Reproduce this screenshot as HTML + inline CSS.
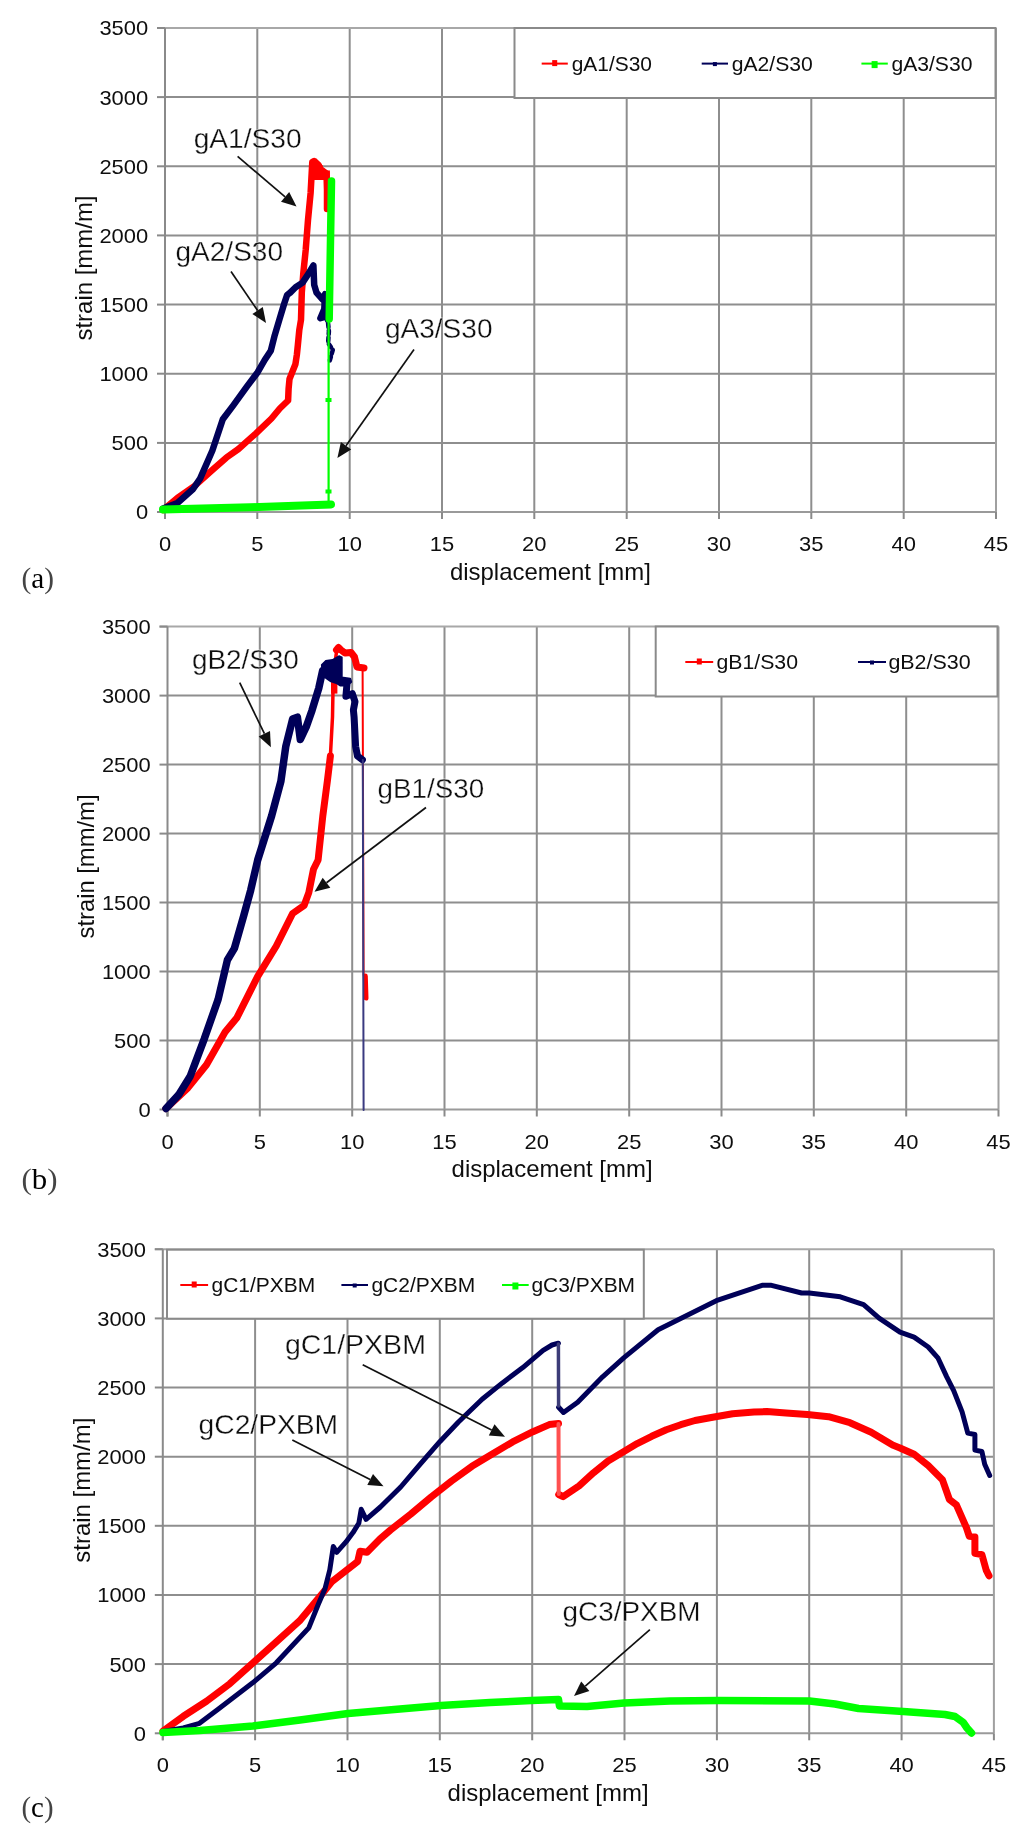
<!DOCTYPE html>
<html><head><meta charset="utf-8"><title>strain vs displacement</title>
<style>html,body{margin:0;padding:0;background:#fff;}body{width:1032px;height:1842px;overflow:hidden;}svg{display:block;filter:blur(0.4px);}</style>
</head><body>
<svg width="1032" height="1842" viewBox="0 0 1032 1842">
<rect width="1032" height="1842" fill="#fff"/>
<line x1="257.3" y1="28.0" x2="257.3" y2="512.0" stroke="#8e8e8e" stroke-width="2"/>
<line x1="349.7" y1="28.0" x2="349.7" y2="512.0" stroke="#8e8e8e" stroke-width="2"/>
<line x1="442.0" y1="28.0" x2="442.0" y2="512.0" stroke="#8e8e8e" stroke-width="2"/>
<line x1="534.3" y1="28.0" x2="534.3" y2="512.0" stroke="#8e8e8e" stroke-width="2"/>
<line x1="626.7" y1="28.0" x2="626.7" y2="512.0" stroke="#8e8e8e" stroke-width="2"/>
<line x1="719.0" y1="28.0" x2="719.0" y2="512.0" stroke="#8e8e8e" stroke-width="2"/>
<line x1="811.3" y1="28.0" x2="811.3" y2="512.0" stroke="#8e8e8e" stroke-width="2"/>
<line x1="903.7" y1="28.0" x2="903.7" y2="512.0" stroke="#8e8e8e" stroke-width="2"/>
<line x1="165.0" y1="442.9" x2="996.0" y2="442.9" stroke="#8e8e8e" stroke-width="2"/>
<line x1="165.0" y1="373.7" x2="996.0" y2="373.7" stroke="#8e8e8e" stroke-width="2"/>
<line x1="165.0" y1="304.6" x2="996.0" y2="304.6" stroke="#8e8e8e" stroke-width="2"/>
<line x1="165.0" y1="235.4" x2="996.0" y2="235.4" stroke="#8e8e8e" stroke-width="2"/>
<line x1="165.0" y1="166.3" x2="996.0" y2="166.3" stroke="#8e8e8e" stroke-width="2"/>
<line x1="165.0" y1="97.1" x2="996.0" y2="97.1" stroke="#8e8e8e" stroke-width="2"/>
<line x1="157.0" y1="28.0" x2="996.0" y2="28.0" stroke="#a8a8a8" stroke-width="2"/>
<line x1="996.0" y1="28.0" x2="996.0" y2="512.0" stroke="#a0a0a0" stroke-width="2"/>
<line x1="165.0" y1="512.0" x2="996.0" y2="512.0" stroke="#9a9a9a" stroke-width="2"/>
<line x1="165.0" y1="28.0" x2="165.0" y2="519.0" stroke="#8a8a8a" stroke-width="2"/>
<line x1="157.0" y1="512.0" x2="165.0" y2="512.0" stroke="#8a8a8a" stroke-width="2"/>
<text x="148.2" y="519.4" font-family="Liberation Sans" font-size="21" fill="#0e0e0e" text-anchor="end" textLength="12.2" lengthAdjust="spacingAndGlyphs" >0</text>
<line x1="157.0" y1="442.9" x2="165.0" y2="442.9" stroke="#8a8a8a" stroke-width="2"/>
<text x="148.2" y="450.3" font-family="Liberation Sans" font-size="21" fill="#0e0e0e" text-anchor="end" textLength="36.6" lengthAdjust="spacingAndGlyphs" >500</text>
<line x1="157.0" y1="373.7" x2="165.0" y2="373.7" stroke="#8a8a8a" stroke-width="2"/>
<text x="148.2" y="381.1" font-family="Liberation Sans" font-size="21" fill="#0e0e0e" text-anchor="end" textLength="48.8" lengthAdjust="spacingAndGlyphs" >1000</text>
<line x1="157.0" y1="304.6" x2="165.0" y2="304.6" stroke="#8a8a8a" stroke-width="2"/>
<text x="148.2" y="312.0" font-family="Liberation Sans" font-size="21" fill="#0e0e0e" text-anchor="end" textLength="48.8" lengthAdjust="spacingAndGlyphs" >1500</text>
<line x1="157.0" y1="235.4" x2="165.0" y2="235.4" stroke="#8a8a8a" stroke-width="2"/>
<text x="148.2" y="242.8" font-family="Liberation Sans" font-size="21" fill="#0e0e0e" text-anchor="end" textLength="48.8" lengthAdjust="spacingAndGlyphs" >2000</text>
<line x1="157.0" y1="166.3" x2="165.0" y2="166.3" stroke="#8a8a8a" stroke-width="2"/>
<text x="148.2" y="173.7" font-family="Liberation Sans" font-size="21" fill="#0e0e0e" text-anchor="end" textLength="48.8" lengthAdjust="spacingAndGlyphs" >2500</text>
<line x1="157.0" y1="97.1" x2="165.0" y2="97.1" stroke="#8a8a8a" stroke-width="2"/>
<text x="148.2" y="104.5" font-family="Liberation Sans" font-size="21" fill="#0e0e0e" text-anchor="end" textLength="48.8" lengthAdjust="spacingAndGlyphs" >3000</text>
<line x1="157.0" y1="28.0" x2="165.0" y2="28.0" stroke="#8a8a8a" stroke-width="2"/>
<text x="148.2" y="35.4" font-family="Liberation Sans" font-size="21" fill="#0e0e0e" text-anchor="end" textLength="48.8" lengthAdjust="spacingAndGlyphs" >3500</text>
<line x1="165.0" y1="512.0" x2="165.0" y2="519.0" stroke="#8a8a8a" stroke-width="2"/>
<text x="165.0" y="551.0" font-family="Liberation Sans" font-size="21" fill="#0e0e0e" text-anchor="middle" textLength="12.2" lengthAdjust="spacingAndGlyphs" >0</text>
<line x1="257.3" y1="512.0" x2="257.3" y2="519.0" stroke="#8a8a8a" stroke-width="2"/>
<text x="257.3" y="551.0" font-family="Liberation Sans" font-size="21" fill="#0e0e0e" text-anchor="middle" textLength="12.2" lengthAdjust="spacingAndGlyphs" >5</text>
<line x1="349.7" y1="512.0" x2="349.7" y2="519.0" stroke="#8a8a8a" stroke-width="2"/>
<text x="349.7" y="551.0" font-family="Liberation Sans" font-size="21" fill="#0e0e0e" text-anchor="middle" textLength="24.4" lengthAdjust="spacingAndGlyphs" >10</text>
<line x1="442.0" y1="512.0" x2="442.0" y2="519.0" stroke="#8a8a8a" stroke-width="2"/>
<text x="442.0" y="551.0" font-family="Liberation Sans" font-size="21" fill="#0e0e0e" text-anchor="middle" textLength="24.4" lengthAdjust="spacingAndGlyphs" >15</text>
<line x1="534.3" y1="512.0" x2="534.3" y2="519.0" stroke="#8a8a8a" stroke-width="2"/>
<text x="534.3" y="551.0" font-family="Liberation Sans" font-size="21" fill="#0e0e0e" text-anchor="middle" textLength="24.4" lengthAdjust="spacingAndGlyphs" >20</text>
<line x1="626.7" y1="512.0" x2="626.7" y2="519.0" stroke="#8a8a8a" stroke-width="2"/>
<text x="626.7" y="551.0" font-family="Liberation Sans" font-size="21" fill="#0e0e0e" text-anchor="middle" textLength="24.4" lengthAdjust="spacingAndGlyphs" >25</text>
<line x1="719.0" y1="512.0" x2="719.0" y2="519.0" stroke="#8a8a8a" stroke-width="2"/>
<text x="719.0" y="551.0" font-family="Liberation Sans" font-size="21" fill="#0e0e0e" text-anchor="middle" textLength="24.4" lengthAdjust="spacingAndGlyphs" >30</text>
<line x1="811.3" y1="512.0" x2="811.3" y2="519.0" stroke="#8a8a8a" stroke-width="2"/>
<text x="811.3" y="551.0" font-family="Liberation Sans" font-size="21" fill="#0e0e0e" text-anchor="middle" textLength="24.4" lengthAdjust="spacingAndGlyphs" >35</text>
<line x1="903.7" y1="512.0" x2="903.7" y2="519.0" stroke="#8a8a8a" stroke-width="2"/>
<text x="903.7" y="551.0" font-family="Liberation Sans" font-size="21" fill="#0e0e0e" text-anchor="middle" textLength="24.4" lengthAdjust="spacingAndGlyphs" >40</text>
<line x1="996.0" y1="512.0" x2="996.0" y2="519.0" stroke="#8a8a8a" stroke-width="2"/>
<text x="996.0" y="551.0" font-family="Liberation Sans" font-size="21" fill="#0e0e0e" text-anchor="middle" textLength="24.4" lengthAdjust="spacingAndGlyphs" >45</text>
<rect x="514.5" y="28.0" width="481.0" height="70.0" fill="#fff" stroke="#8a8a8a" stroke-width="2"/>
<line x1="541.7" y1="63.6" x2="567.8" y2="63.6" stroke="#ff0000" stroke-width="2"/>
<rect x="552.2" y="60.1" width="5" height="6" fill="#ff0000"/>
<text x="571.7" y="70.6" font-family="Liberation Sans" font-size="21" fill="#0e0e0e" text-anchor="start" textLength="80.3" lengthAdjust="spacingAndGlyphs" >gA1/S30</text>
<line x1="701.7" y1="63.6" x2="728.0" y2="63.6" stroke="#000058" stroke-width="2"/>
<rect x="712.9" y="62.1" width="4" height="4" fill="#000058"/>
<text x="731.7" y="70.6" font-family="Liberation Sans" font-size="21" fill="#0e0e0e" text-anchor="start" textLength="81.1" lengthAdjust="spacingAndGlyphs" >gA2/S30</text>
<line x1="861.4" y1="63.6" x2="887.8" y2="63.6" stroke="#00ff00" stroke-width="2"/>
<rect x="871.6" y="61.1" width="6" height="7" fill="#00ff00"/>
<text x="891.4" y="70.6" font-family="Liberation Sans" font-size="21" fill="#0e0e0e" text-anchor="start" textLength="81.1" lengthAdjust="spacingAndGlyphs" >gA3/S30</text>
<polyline points="163.0,510.0 177.4,498.0 195.0,485.6 212.3,470.0 226.3,457.7 238.5,449.0 256.0,433.3 271.5,418.5 279.8,408.5 288.1,400.5 288.6,388.7 289.5,379.0 292.5,371.5 295.4,364.2 296.9,354.4 297.9,344.7 299.3,330.0 301.0,319.8 301.8,292.6 303.3,273.3 305.7,250.0 308.0,220.0 310.6,193.0 312.3,162.0 314.0,161.0 318.5,165.0 320.5,169.0 326.5,173.5 327.0,190.0 327.0,209.0" fill="none" stroke="#ff0000" stroke-width="6.5" stroke-linejoin="round" stroke-linecap="round" />
<polygon points="312,161 316.3,158.5 322.8,165.7 323.3,170.6 329.9,170.6 329.9,180 313,180" fill="#ff0000"/>
<polyline points="163.0,508.5 177.4,503.0 193.1,489.0 200.1,478.6 212.3,450.7 222.8,419.3 233.3,405.4 247.2,386.2 257.7,372.2 264.7,360.0 270.8,350.8 274.7,335.3 279.3,319.8 284.0,304.3 287.1,295.0 290.2,292.6 295.6,287.2 302.6,282.6 307.2,275.6 313.4,265.5 314.2,284.9 316.5,292.6 322.7,299.6 325.0,294.2 324.3,308.9 320.4,318.2 325.8,316.7" fill="none" stroke="#000058" stroke-width="6.5" stroke-linejoin="round" stroke-linecap="round" />
<polyline points="325.8,316.7 328.1,323.6 328.9,331.4 328.1,343.0 332.8,350.0 329.7,360.9" fill="none" stroke="#000058" stroke-width="4.5" stroke-linejoin="round" stroke-linecap="round" stroke-dasharray="4 3"/>
<polyline points="163.0,509.5 250.0,507.3 331.0,504.5" fill="none" stroke="#00ff00" stroke-width="8" stroke-linejoin="round" stroke-linecap="round" />
<polyline points="328.6,506.0 328.6,318.0" fill="none" stroke="#00ff00" stroke-width="2.2" stroke-linejoin="round" stroke-linecap="round" />
<polyline points="329.2,319.0 330.5,240.0 331.5,181.0" fill="none" stroke="#00ff00" stroke-width="7.5" stroke-linejoin="round" stroke-linecap="round" />
<rect x="325.5" y="398" width="6" height="4" fill="#00ff00"/>
<rect x="325.5" y="489.5" width="6" height="4" fill="#00ff00"/>
<text x="193.7" y="147.7" font-family="Liberation Sans" font-size="27.5" fill="#0e0e0e" text-anchor="start" textLength="108.0" lengthAdjust="spacingAndGlyphs" stroke="#fff" stroke-width="0.3">gA1/S30</text>
<text x="175.5" y="260.5" font-family="Liberation Sans" font-size="27.5" fill="#0e0e0e" text-anchor="start" textLength="107.5" lengthAdjust="spacingAndGlyphs" stroke="#fff" stroke-width="0.3">gA2/S30</text>
<text x="384.9" y="337.8" font-family="Liberation Sans" font-size="27.5" fill="#0e0e0e" text-anchor="start" textLength="107.6" lengthAdjust="spacingAndGlyphs" stroke="#fff" stroke-width="0.3">gA3/S30</text>
<line x1="237.6" y1="156.4" x2="285.1" y2="196.9" stroke="#111" stroke-width="1.7"/>
<polygon points="296.5,206.6 281.0,201.7 289.2,192.1" fill="#111"/>
<line x1="231.0" y1="271.4" x2="257.6" y2="310.6" stroke="#111" stroke-width="1.7"/>
<polygon points="266.0,323.0 252.4,314.1 262.8,307.0" fill="#111"/>
<line x1="414.0" y1="349.4" x2="346.0" y2="445.7" stroke="#111" stroke-width="1.7"/>
<polygon points="337.4,458.0 340.9,442.1 351.2,449.4" fill="#111"/>
<text x="550.4" y="579.5" font-family="Liberation Sans" font-size="24" fill="#0e0e0e" text-anchor="middle" textLength="201.0" lengthAdjust="spacingAndGlyphs" >displacement [mm]</text>
<text transform="translate(92.4,268) rotate(-90)" font-family="Liberation Sans" font-size="24" fill="#0e0e0e" text-anchor="middle" textLength="145" lengthAdjust="spacingAndGlyphs">strain [mm/m]</text>
<text x="21.5" y="587.6" font-family="Liberation Serif" font-size="30" fill="#111" textLength="32.5" lengthAdjust="spacingAndGlyphs"><tspan fill="#444">(</tspan><tspan fill="#000">a</tspan><tspan fill="#444">)</tspan></text>
<line x1="259.8" y1="626.6" x2="259.8" y2="1109.5" stroke="#8e8e8e" stroke-width="2"/>
<line x1="352.2" y1="626.6" x2="352.2" y2="1109.5" stroke="#8e8e8e" stroke-width="2"/>
<line x1="444.5" y1="626.6" x2="444.5" y2="1109.5" stroke="#8e8e8e" stroke-width="2"/>
<line x1="536.8" y1="626.6" x2="536.8" y2="1109.5" stroke="#8e8e8e" stroke-width="2"/>
<line x1="629.2" y1="626.6" x2="629.2" y2="1109.5" stroke="#8e8e8e" stroke-width="2"/>
<line x1="721.5" y1="626.6" x2="721.5" y2="1109.5" stroke="#8e8e8e" stroke-width="2"/>
<line x1="813.8" y1="626.6" x2="813.8" y2="1109.5" stroke="#8e8e8e" stroke-width="2"/>
<line x1="906.2" y1="626.6" x2="906.2" y2="1109.5" stroke="#8e8e8e" stroke-width="2"/>
<line x1="167.5" y1="1040.5" x2="998.5" y2="1040.5" stroke="#8e8e8e" stroke-width="2"/>
<line x1="167.5" y1="971.5" x2="998.5" y2="971.5" stroke="#8e8e8e" stroke-width="2"/>
<line x1="167.5" y1="902.5" x2="998.5" y2="902.5" stroke="#8e8e8e" stroke-width="2"/>
<line x1="167.5" y1="833.6" x2="998.5" y2="833.6" stroke="#8e8e8e" stroke-width="2"/>
<line x1="167.5" y1="764.6" x2="998.5" y2="764.6" stroke="#8e8e8e" stroke-width="2"/>
<line x1="167.5" y1="695.6" x2="998.5" y2="695.6" stroke="#8e8e8e" stroke-width="2"/>
<line x1="159.5" y1="626.6" x2="998.5" y2="626.6" stroke="#a8a8a8" stroke-width="2"/>
<line x1="998.5" y1="626.6" x2="998.5" y2="1109.5" stroke="#a0a0a0" stroke-width="2"/>
<line x1="167.5" y1="1109.5" x2="998.5" y2="1109.5" stroke="#9a9a9a" stroke-width="2"/>
<line x1="167.5" y1="626.6" x2="167.5" y2="1116.5" stroke="#8a8a8a" stroke-width="2"/>
<line x1="159.5" y1="1109.5" x2="167.5" y2="1109.5" stroke="#8a8a8a" stroke-width="2"/>
<text x="150.7" y="1116.9" font-family="Liberation Sans" font-size="21" fill="#0e0e0e" text-anchor="end" textLength="12.2" lengthAdjust="spacingAndGlyphs" >0</text>
<line x1="159.5" y1="1040.5" x2="167.5" y2="1040.5" stroke="#8a8a8a" stroke-width="2"/>
<text x="150.7" y="1047.9" font-family="Liberation Sans" font-size="21" fill="#0e0e0e" text-anchor="end" textLength="36.6" lengthAdjust="spacingAndGlyphs" >500</text>
<line x1="159.5" y1="971.5" x2="167.5" y2="971.5" stroke="#8a8a8a" stroke-width="2"/>
<text x="150.7" y="978.9" font-family="Liberation Sans" font-size="21" fill="#0e0e0e" text-anchor="end" textLength="48.8" lengthAdjust="spacingAndGlyphs" >1000</text>
<line x1="159.5" y1="902.5" x2="167.5" y2="902.5" stroke="#8a8a8a" stroke-width="2"/>
<text x="150.7" y="909.9" font-family="Liberation Sans" font-size="21" fill="#0e0e0e" text-anchor="end" textLength="48.8" lengthAdjust="spacingAndGlyphs" >1500</text>
<line x1="159.5" y1="833.6" x2="167.5" y2="833.6" stroke="#8a8a8a" stroke-width="2"/>
<text x="150.7" y="841.0" font-family="Liberation Sans" font-size="21" fill="#0e0e0e" text-anchor="end" textLength="48.8" lengthAdjust="spacingAndGlyphs" >2000</text>
<line x1="159.5" y1="764.6" x2="167.5" y2="764.6" stroke="#8a8a8a" stroke-width="2"/>
<text x="150.7" y="772.0" font-family="Liberation Sans" font-size="21" fill="#0e0e0e" text-anchor="end" textLength="48.8" lengthAdjust="spacingAndGlyphs" >2500</text>
<line x1="159.5" y1="695.6" x2="167.5" y2="695.6" stroke="#8a8a8a" stroke-width="2"/>
<text x="150.7" y="703.0" font-family="Liberation Sans" font-size="21" fill="#0e0e0e" text-anchor="end" textLength="48.8" lengthAdjust="spacingAndGlyphs" >3000</text>
<line x1="159.5" y1="626.6" x2="167.5" y2="626.6" stroke="#8a8a8a" stroke-width="2"/>
<text x="150.7" y="634.0" font-family="Liberation Sans" font-size="21" fill="#0e0e0e" text-anchor="end" textLength="48.8" lengthAdjust="spacingAndGlyphs" >3500</text>
<line x1="167.5" y1="1109.5" x2="167.5" y2="1116.5" stroke="#8a8a8a" stroke-width="2"/>
<text x="167.5" y="1148.5" font-family="Liberation Sans" font-size="21" fill="#0e0e0e" text-anchor="middle" textLength="12.2" lengthAdjust="spacingAndGlyphs" >0</text>
<line x1="259.8" y1="1109.5" x2="259.8" y2="1116.5" stroke="#8a8a8a" stroke-width="2"/>
<text x="259.8" y="1148.5" font-family="Liberation Sans" font-size="21" fill="#0e0e0e" text-anchor="middle" textLength="12.2" lengthAdjust="spacingAndGlyphs" >5</text>
<line x1="352.2" y1="1109.5" x2="352.2" y2="1116.5" stroke="#8a8a8a" stroke-width="2"/>
<text x="352.2" y="1148.5" font-family="Liberation Sans" font-size="21" fill="#0e0e0e" text-anchor="middle" textLength="24.4" lengthAdjust="spacingAndGlyphs" >10</text>
<line x1="444.5" y1="1109.5" x2="444.5" y2="1116.5" stroke="#8a8a8a" stroke-width="2"/>
<text x="444.5" y="1148.5" font-family="Liberation Sans" font-size="21" fill="#0e0e0e" text-anchor="middle" textLength="24.4" lengthAdjust="spacingAndGlyphs" >15</text>
<line x1="536.8" y1="1109.5" x2="536.8" y2="1116.5" stroke="#8a8a8a" stroke-width="2"/>
<text x="536.8" y="1148.5" font-family="Liberation Sans" font-size="21" fill="#0e0e0e" text-anchor="middle" textLength="24.4" lengthAdjust="spacingAndGlyphs" >20</text>
<line x1="629.2" y1="1109.5" x2="629.2" y2="1116.5" stroke="#8a8a8a" stroke-width="2"/>
<text x="629.2" y="1148.5" font-family="Liberation Sans" font-size="21" fill="#0e0e0e" text-anchor="middle" textLength="24.4" lengthAdjust="spacingAndGlyphs" >25</text>
<line x1="721.5" y1="1109.5" x2="721.5" y2="1116.5" stroke="#8a8a8a" stroke-width="2"/>
<text x="721.5" y="1148.5" font-family="Liberation Sans" font-size="21" fill="#0e0e0e" text-anchor="middle" textLength="24.4" lengthAdjust="spacingAndGlyphs" >30</text>
<line x1="813.8" y1="1109.5" x2="813.8" y2="1116.5" stroke="#8a8a8a" stroke-width="2"/>
<text x="813.8" y="1148.5" font-family="Liberation Sans" font-size="21" fill="#0e0e0e" text-anchor="middle" textLength="24.4" lengthAdjust="spacingAndGlyphs" >35</text>
<line x1="906.2" y1="1109.5" x2="906.2" y2="1116.5" stroke="#8a8a8a" stroke-width="2"/>
<text x="906.2" y="1148.5" font-family="Liberation Sans" font-size="21" fill="#0e0e0e" text-anchor="middle" textLength="24.4" lengthAdjust="spacingAndGlyphs" >40</text>
<line x1="998.5" y1="1109.5" x2="998.5" y2="1116.5" stroke="#8a8a8a" stroke-width="2"/>
<text x="998.5" y="1148.5" font-family="Liberation Sans" font-size="21" fill="#0e0e0e" text-anchor="middle" textLength="24.4" lengthAdjust="spacingAndGlyphs" >45</text>
<rect x="655.7" y="626.5" width="341.8" height="70.0" fill="#fff" stroke="#8a8a8a" stroke-width="2"/>
<line x1="685.3" y1="662.0" x2="713.2" y2="662.0" stroke="#ff0000" stroke-width="2"/>
<rect x="696.8" y="658.5" width="5" height="6" fill="#ff0000"/>
<text x="716.4" y="669.0" font-family="Liberation Sans" font-size="21" fill="#0e0e0e" text-anchor="start" textLength="81.6" lengthAdjust="spacingAndGlyphs" >gB1/S30</text>
<line x1="858.0" y1="662.0" x2="886.0" y2="662.0" stroke="#000058" stroke-width="2"/>
<rect x="870.0" y="660.5" width="4" height="4" fill="#000058"/>
<text x="888.4" y="669.0" font-family="Liberation Sans" font-size="21" fill="#0e0e0e" text-anchor="start" textLength="82.2" lengthAdjust="spacingAndGlyphs" >gB2/S30</text>
<polyline points="166.0,1108.5 187.9,1087.9 206.5,1064.7 225.1,1032.1 236.7,1018.1 257.7,976.3 276.3,946.0 292.6,913.5 304.2,905.3 308.8,892.6 313.5,869.3 318.1,860.0 322.8,816.0 327.5,780.0 330.4,756.0" fill="none" stroke="#ff0000" stroke-width="7" stroke-linejoin="round" stroke-linecap="round" />
<polyline points="330.4,756.0 332.5,717.0 333.0,690.0 334.0,670.0 336.5,652.0" fill="none" stroke="#ff0000" stroke-width="3.5" stroke-linejoin="round" stroke-linecap="round" />
<rect x="331" y="681" width="6.4" height="12.6" fill="#ff0000"/>
<polyline points="336.5,650.0 338.5,647.5 341.0,650.0 345.0,653.0 351.0,652.5 354.5,657.0 357.0,667.0 364.0,668.0" fill="none" stroke="#ff0000" stroke-width="7" stroke-linejoin="round" stroke-linecap="round" />
<polyline points="362.6,667.0 363.6,975.0" fill="none" stroke="#ff0000" stroke-width="2" stroke-linejoin="round" stroke-linecap="round" />
<polyline points="365.3,976.0 366.0,998.0" fill="none" stroke="#ff0000" stroke-width="5" stroke-linejoin="round" stroke-linecap="round" />
<polygon points="321.9,664.9 325.7,661.1 332.6,660.1 339,656.3 341.7,657.4 341.7,677.6 350.2,678.7 351.2,681.9 347,685.6 340.6,685.6 336.3,683 331,681.4 325.7,677.6 323,676.6" fill="#000058" stroke="#000058" stroke-width="2" stroke-linejoin="round"/>
<polyline points="347.0,684.0 345.9,696.3 352.3,693.6 355.0,701.6 353.4,710.0 354.1,717.2 355.6,746.3 357.5,756.0 362.4,759.8" fill="none" stroke="#000058" stroke-width="7" stroke-linejoin="round" stroke-linecap="round" />
<polyline points="166.0,1108.5 178.6,1094.9 190.2,1076.3 204.2,1039.1 218.1,999.5 227.4,960.0 234.4,948.4 243.7,915.8 250.7,890.2 257.7,860.0 271.6,816.0 280.9,781.2 285.8,746.3 292.6,719.1 297.4,717.2 300.3,739.5 306.2,726.9 312.0,710.4 318.8,688.1 322.6,670.7" fill="none" stroke="#000058" stroke-width="7.5" stroke-linejoin="round" stroke-linecap="round" />
<polyline points="362.8,760.0 363.6,1110.0" fill="none" stroke="#3a3a80" stroke-width="2" stroke-linejoin="round" stroke-linecap="round" />
<text x="191.9" y="669.2" font-family="Liberation Sans" font-size="27.5" fill="#0e0e0e" text-anchor="start" textLength="107.0" lengthAdjust="spacingAndGlyphs" stroke="#fff" stroke-width="0.3">gB2/S30</text>
<text x="377.5" y="797.8" font-family="Liberation Sans" font-size="27.5" fill="#0e0e0e" text-anchor="start" textLength="106.6" lengthAdjust="spacingAndGlyphs" stroke="#fff" stroke-width="0.3">gB1/S30</text>
<line x1="239.7" y1="682.7" x2="264.4" y2="733.7" stroke="#111" stroke-width="1.7"/>
<polygon points="270.9,747.2 258.7,736.4 270.0,731.0" fill="#111"/>
<line x1="426.0" y1="807.5" x2="326.5" y2="882.8" stroke="#111" stroke-width="1.7"/>
<polygon points="314.5,891.8 322.7,877.7 330.3,887.8" fill="#111"/>
<text x="552.1" y="1177.3" font-family="Liberation Sans" font-size="24" fill="#0e0e0e" text-anchor="middle" textLength="201.0" lengthAdjust="spacingAndGlyphs" >displacement [mm]</text>
<text transform="translate(94,866.5) rotate(-90)" font-family="Liberation Sans" font-size="24" fill="#0e0e0e" text-anchor="middle" textLength="144" lengthAdjust="spacingAndGlyphs">strain [mm/m]</text>
<text x="21.5" y="1189.2" font-family="Liberation Serif" font-size="30" fill="#111" textLength="36" lengthAdjust="spacingAndGlyphs"><tspan fill="#444">(</tspan><tspan fill="#000">b</tspan><tspan fill="#444">)</tspan></text>
<line x1="255.1" y1="1249.2" x2="255.1" y2="1733.3" stroke="#8e8e8e" stroke-width="2"/>
<line x1="347.5" y1="1249.2" x2="347.5" y2="1733.3" stroke="#8e8e8e" stroke-width="2"/>
<line x1="439.8" y1="1249.2" x2="439.8" y2="1733.3" stroke="#8e8e8e" stroke-width="2"/>
<line x1="532.2" y1="1249.2" x2="532.2" y2="1733.3" stroke="#8e8e8e" stroke-width="2"/>
<line x1="624.5" y1="1249.2" x2="624.5" y2="1733.3" stroke="#8e8e8e" stroke-width="2"/>
<line x1="716.9" y1="1249.2" x2="716.9" y2="1733.3" stroke="#8e8e8e" stroke-width="2"/>
<line x1="809.2" y1="1249.2" x2="809.2" y2="1733.3" stroke="#8e8e8e" stroke-width="2"/>
<line x1="901.6" y1="1249.2" x2="901.6" y2="1733.3" stroke="#8e8e8e" stroke-width="2"/>
<line x1="162.8" y1="1664.1" x2="993.9" y2="1664.1" stroke="#8e8e8e" stroke-width="2"/>
<line x1="162.8" y1="1595.0" x2="993.9" y2="1595.0" stroke="#8e8e8e" stroke-width="2"/>
<line x1="162.8" y1="1525.8" x2="993.9" y2="1525.8" stroke="#8e8e8e" stroke-width="2"/>
<line x1="162.8" y1="1456.7" x2="993.9" y2="1456.7" stroke="#8e8e8e" stroke-width="2"/>
<line x1="162.8" y1="1387.5" x2="993.9" y2="1387.5" stroke="#8e8e8e" stroke-width="2"/>
<line x1="162.8" y1="1318.4" x2="993.9" y2="1318.4" stroke="#8e8e8e" stroke-width="2"/>
<line x1="154.8" y1="1249.2" x2="993.9" y2="1249.2" stroke="#a8a8a8" stroke-width="2"/>
<line x1="993.9" y1="1249.2" x2="993.9" y2="1733.3" stroke="#a0a0a0" stroke-width="2"/>
<line x1="162.8" y1="1733.3" x2="993.9" y2="1733.3" stroke="#9a9a9a" stroke-width="2"/>
<line x1="162.8" y1="1249.2" x2="162.8" y2="1740.3" stroke="#8a8a8a" stroke-width="2"/>
<line x1="154.8" y1="1733.3" x2="162.8" y2="1733.3" stroke="#8a8a8a" stroke-width="2"/>
<text x="146.0" y="1740.7" font-family="Liberation Sans" font-size="21" fill="#0e0e0e" text-anchor="end" textLength="12.2" lengthAdjust="spacingAndGlyphs" >0</text>
<line x1="154.8" y1="1664.1" x2="162.8" y2="1664.1" stroke="#8a8a8a" stroke-width="2"/>
<text x="146.0" y="1671.5" font-family="Liberation Sans" font-size="21" fill="#0e0e0e" text-anchor="end" textLength="36.6" lengthAdjust="spacingAndGlyphs" >500</text>
<line x1="154.8" y1="1595.0" x2="162.8" y2="1595.0" stroke="#8a8a8a" stroke-width="2"/>
<text x="146.0" y="1602.4" font-family="Liberation Sans" font-size="21" fill="#0e0e0e" text-anchor="end" textLength="48.8" lengthAdjust="spacingAndGlyphs" >1000</text>
<line x1="154.8" y1="1525.8" x2="162.8" y2="1525.8" stroke="#8a8a8a" stroke-width="2"/>
<text x="146.0" y="1533.2" font-family="Liberation Sans" font-size="21" fill="#0e0e0e" text-anchor="end" textLength="48.8" lengthAdjust="spacingAndGlyphs" >1500</text>
<line x1="154.8" y1="1456.7" x2="162.8" y2="1456.7" stroke="#8a8a8a" stroke-width="2"/>
<text x="146.0" y="1464.1" font-family="Liberation Sans" font-size="21" fill="#0e0e0e" text-anchor="end" textLength="48.8" lengthAdjust="spacingAndGlyphs" >2000</text>
<line x1="154.8" y1="1387.5" x2="162.8" y2="1387.5" stroke="#8a8a8a" stroke-width="2"/>
<text x="146.0" y="1394.9" font-family="Liberation Sans" font-size="21" fill="#0e0e0e" text-anchor="end" textLength="48.8" lengthAdjust="spacingAndGlyphs" >2500</text>
<line x1="154.8" y1="1318.4" x2="162.8" y2="1318.4" stroke="#8a8a8a" stroke-width="2"/>
<text x="146.0" y="1325.8" font-family="Liberation Sans" font-size="21" fill="#0e0e0e" text-anchor="end" textLength="48.8" lengthAdjust="spacingAndGlyphs" >3000</text>
<line x1="154.8" y1="1249.2" x2="162.8" y2="1249.2" stroke="#8a8a8a" stroke-width="2"/>
<text x="146.0" y="1256.6" font-family="Liberation Sans" font-size="21" fill="#0e0e0e" text-anchor="end" textLength="48.8" lengthAdjust="spacingAndGlyphs" >3500</text>
<line x1="162.8" y1="1733.3" x2="162.8" y2="1740.3" stroke="#8a8a8a" stroke-width="2"/>
<text x="162.8" y="1772.3" font-family="Liberation Sans" font-size="21" fill="#0e0e0e" text-anchor="middle" textLength="12.2" lengthAdjust="spacingAndGlyphs" >0</text>
<line x1="255.1" y1="1733.3" x2="255.1" y2="1740.3" stroke="#8a8a8a" stroke-width="2"/>
<text x="255.1" y="1772.3" font-family="Liberation Sans" font-size="21" fill="#0e0e0e" text-anchor="middle" textLength="12.2" lengthAdjust="spacingAndGlyphs" >5</text>
<line x1="347.5" y1="1733.3" x2="347.5" y2="1740.3" stroke="#8a8a8a" stroke-width="2"/>
<text x="347.5" y="1772.3" font-family="Liberation Sans" font-size="21" fill="#0e0e0e" text-anchor="middle" textLength="24.4" lengthAdjust="spacingAndGlyphs" >10</text>
<line x1="439.8" y1="1733.3" x2="439.8" y2="1740.3" stroke="#8a8a8a" stroke-width="2"/>
<text x="439.8" y="1772.3" font-family="Liberation Sans" font-size="21" fill="#0e0e0e" text-anchor="middle" textLength="24.4" lengthAdjust="spacingAndGlyphs" >15</text>
<line x1="532.2" y1="1733.3" x2="532.2" y2="1740.3" stroke="#8a8a8a" stroke-width="2"/>
<text x="532.2" y="1772.3" font-family="Liberation Sans" font-size="21" fill="#0e0e0e" text-anchor="middle" textLength="24.4" lengthAdjust="spacingAndGlyphs" >20</text>
<line x1="624.5" y1="1733.3" x2="624.5" y2="1740.3" stroke="#8a8a8a" stroke-width="2"/>
<text x="624.5" y="1772.3" font-family="Liberation Sans" font-size="21" fill="#0e0e0e" text-anchor="middle" textLength="24.4" lengthAdjust="spacingAndGlyphs" >25</text>
<line x1="716.9" y1="1733.3" x2="716.9" y2="1740.3" stroke="#8a8a8a" stroke-width="2"/>
<text x="716.9" y="1772.3" font-family="Liberation Sans" font-size="21" fill="#0e0e0e" text-anchor="middle" textLength="24.4" lengthAdjust="spacingAndGlyphs" >30</text>
<line x1="809.2" y1="1733.3" x2="809.2" y2="1740.3" stroke="#8a8a8a" stroke-width="2"/>
<text x="809.2" y="1772.3" font-family="Liberation Sans" font-size="21" fill="#0e0e0e" text-anchor="middle" textLength="24.4" lengthAdjust="spacingAndGlyphs" >35</text>
<line x1="901.6" y1="1733.3" x2="901.6" y2="1740.3" stroke="#8a8a8a" stroke-width="2"/>
<text x="901.6" y="1772.3" font-family="Liberation Sans" font-size="21" fill="#0e0e0e" text-anchor="middle" textLength="24.4" lengthAdjust="spacingAndGlyphs" >40</text>
<line x1="993.9" y1="1733.3" x2="993.9" y2="1740.3" stroke="#8a8a8a" stroke-width="2"/>
<text x="993.9" y="1772.3" font-family="Liberation Sans" font-size="21" fill="#0e0e0e" text-anchor="middle" textLength="24.4" lengthAdjust="spacingAndGlyphs" >45</text>
<rect x="167.0" y="1249.7" width="476.8" height="69.0" fill="#fff" stroke="#8a8a8a" stroke-width="2"/>
<line x1="180.3" y1="1285.0" x2="208.1" y2="1285.0" stroke="#ff0000" stroke-width="2"/>
<rect x="191.7" y="1281.5" width="5" height="6" fill="#ff0000"/>
<text x="211.5" y="1292.0" font-family="Liberation Sans" font-size="21" fill="#0e0e0e" text-anchor="start" textLength="103.7" lengthAdjust="spacingAndGlyphs" >gC1/PXBM</text>
<line x1="341.4" y1="1285.0" x2="368.0" y2="1285.0" stroke="#000058" stroke-width="2"/>
<rect x="352.7" y="1283.5" width="4" height="4" fill="#000058"/>
<text x="371.4" y="1292.0" font-family="Liberation Sans" font-size="21" fill="#0e0e0e" text-anchor="start" textLength="103.8" lengthAdjust="spacingAndGlyphs" >gC2/PXBM</text>
<line x1="502.0" y1="1285.0" x2="528.7" y2="1285.0" stroke="#00ff00" stroke-width="2"/>
<rect x="512.4" y="1282.5" width="6" height="7" fill="#00ff00"/>
<text x="531.4" y="1292.0" font-family="Liberation Sans" font-size="21" fill="#0e0e0e" text-anchor="start" textLength="103.7" lengthAdjust="spacingAndGlyphs" >gC3/PXBM</text>
<polyline points="163.0,1731.0 183.3,1716.3 206.5,1701.2 229.8,1683.7 253.0,1662.8 276.3,1641.9 299.5,1620.9 322.8,1593.0 332.1,1581.4 357.7,1561.6 360.0,1551.2 367.0,1552.3 380.0,1539.0 390.5,1530.0 410.9,1514.0 431.2,1497.0 451.6,1481.0 471.9,1466.3 492.3,1454.1 512.6,1441.9 533.0,1431.7 549.3,1424.6 558.5,1423.6" fill="none" stroke="#ff0000" stroke-width="7" stroke-linejoin="round" stroke-linecap="round" />
<polyline points="558.7,1494.5 563.1,1496.7 579.1,1485.8 593.6,1472.7 608.1,1461.0 622.7,1452.3 637.2,1443.6 651.7,1436.3 666.3,1429.8 680.8,1424.7 695.0,1420.5 711.3,1417.5 732.6,1413.8 754.0,1412.1 766.8,1411.6 786.0,1413.1 807.3,1414.6 828.6,1416.7 849.9,1422.7 871.2,1432.3 892.6,1445.1 900.0,1448.0 914.1,1454.3 928.2,1465.6 942.4,1479.7 949.4,1499.5 956.5,1505.1 966.4,1527.7 969.2,1536.2 974.9,1536.9 974.9,1553.2 981.9,1554.6 986.2,1570.1 989.0,1575.8" fill="none" stroke="#ff0000" stroke-width="7" stroke-linejoin="round" stroke-linecap="round" />
<polyline points="558.5,1424.0 558.7,1494.0" fill="none" stroke="#ff5050" stroke-width="4" stroke-linejoin="round" stroke-linecap="round" />
<polyline points="163.0,1731.5 183.3,1727.9 199.5,1723.3 218.1,1709.3 253.0,1682.6 276.3,1662.8 308.8,1627.9 318.1,1604.7 325.1,1588.4 329.8,1569.8 333.3,1546.5 336.7,1552.3 346.0,1541.9 353.0,1532.6 358.8,1523.3 361.2,1509.3 366.1,1519.3 380.4,1507.0 400.7,1487.0 420.0,1464.3 439.8,1441.7 458.2,1422.2 482.1,1399.2 502.4,1382.9 522.8,1367.6 543.1,1350.3 552.0,1345.0 558.4,1343.2" fill="none" stroke="#000058" stroke-width="5" stroke-linejoin="round" stroke-linecap="round" />
<polyline points="558.6,1407.3 563.5,1412.5 577.7,1402.3 602.6,1376.8 624.0,1357.6 658.1,1329.8 716.3,1300.7 762.8,1285.2 770.5,1285.2 801.6,1293.0 809.3,1293.0 840.3,1296.8 863.6,1304.6 879.1,1318.1 900.0,1332.1 914.1,1337.1 928.2,1347.0 938.1,1358.2 946.6,1376.6 953.7,1390.7 962.1,1411.9 967.8,1433.1 974.9,1434.5 974.9,1450.1 981.9,1451.5 984.7,1464.2 989.7,1475.5" fill="none" stroke="#000058" stroke-width="5" stroke-linejoin="round" stroke-linecap="round" />
<polyline points="558.4,1344.0 558.6,1406.0" fill="none" stroke="#3c3c78" stroke-width="3.5" stroke-linejoin="round" stroke-linecap="round" />
<polyline points="163.0,1732.5 200.0,1730.5 253.0,1726.0 300.0,1720.0 348.0,1713.5 400.0,1709.0 441.0,1705.5 490.0,1702.5 531.0,1700.5 558.5,1699.5 559.5,1706.0 587.0,1706.5 624.0,1703.0 670.0,1701.0 717.8,1700.5 809.5,1701.0 835.0,1704.0 858.5,1708.5 903.3,1711.5 945.0,1714.5 955.0,1716.5 963.0,1722.2 967.0,1728.0 971.5,1733.0" fill="none" stroke="#00ff00" stroke-width="7.5" stroke-linejoin="round" stroke-linecap="round" />
<text x="284.9" y="1353.6" font-family="Liberation Sans" font-size="27.5" fill="#0e0e0e" text-anchor="start" textLength="141.0" lengthAdjust="spacingAndGlyphs" stroke="#fff" stroke-width="0.3">gC1/PXBM</text>
<text x="198.6" y="1433.5" font-family="Liberation Sans" font-size="27.5" fill="#0e0e0e" text-anchor="start" textLength="139.5" lengthAdjust="spacingAndGlyphs" stroke="#fff" stroke-width="0.3">gC2/PXBM</text>
<text x="562.5" y="1621.0" font-family="Liberation Sans" font-size="27.5" fill="#0e0e0e" text-anchor="start" textLength="138.0" lengthAdjust="spacingAndGlyphs" stroke="#fff" stroke-width="0.3">gC3/PXBM</text>
<line x1="362.7" y1="1364.8" x2="491.6" y2="1429.9" stroke="#111" stroke-width="1.7"/>
<polygon points="505.0,1436.7 488.8,1435.6 494.5,1424.3" fill="#111"/>
<line x1="292.3" y1="1440.0" x2="370.1" y2="1479.5" stroke="#111" stroke-width="1.7"/>
<polygon points="383.5,1486.3 367.3,1485.1 373.0,1473.9" fill="#111"/>
<line x1="649.9" y1="1629.7" x2="585.3" y2="1686.1" stroke="#111" stroke-width="1.7"/>
<polygon points="574.0,1696.0 581.2,1681.4 589.4,1690.9" fill="#111"/>
<text x="548.1" y="1801.4" font-family="Liberation Sans" font-size="24" fill="#0e0e0e" text-anchor="middle" textLength="201.0" lengthAdjust="spacingAndGlyphs" >displacement [mm]</text>
<text transform="translate(89.8,1490.2) rotate(-90)" font-family="Liberation Sans" font-size="24" fill="#0e0e0e" text-anchor="middle" textLength="145" lengthAdjust="spacingAndGlyphs">strain [mm/m]</text>
<text x="21.5" y="1816.6" font-family="Liberation Serif" font-size="30" fill="#111" textLength="32" lengthAdjust="spacingAndGlyphs"><tspan fill="#444">(</tspan><tspan fill="#000">c</tspan><tspan fill="#444">)</tspan></text>
</svg>
</body></html>
